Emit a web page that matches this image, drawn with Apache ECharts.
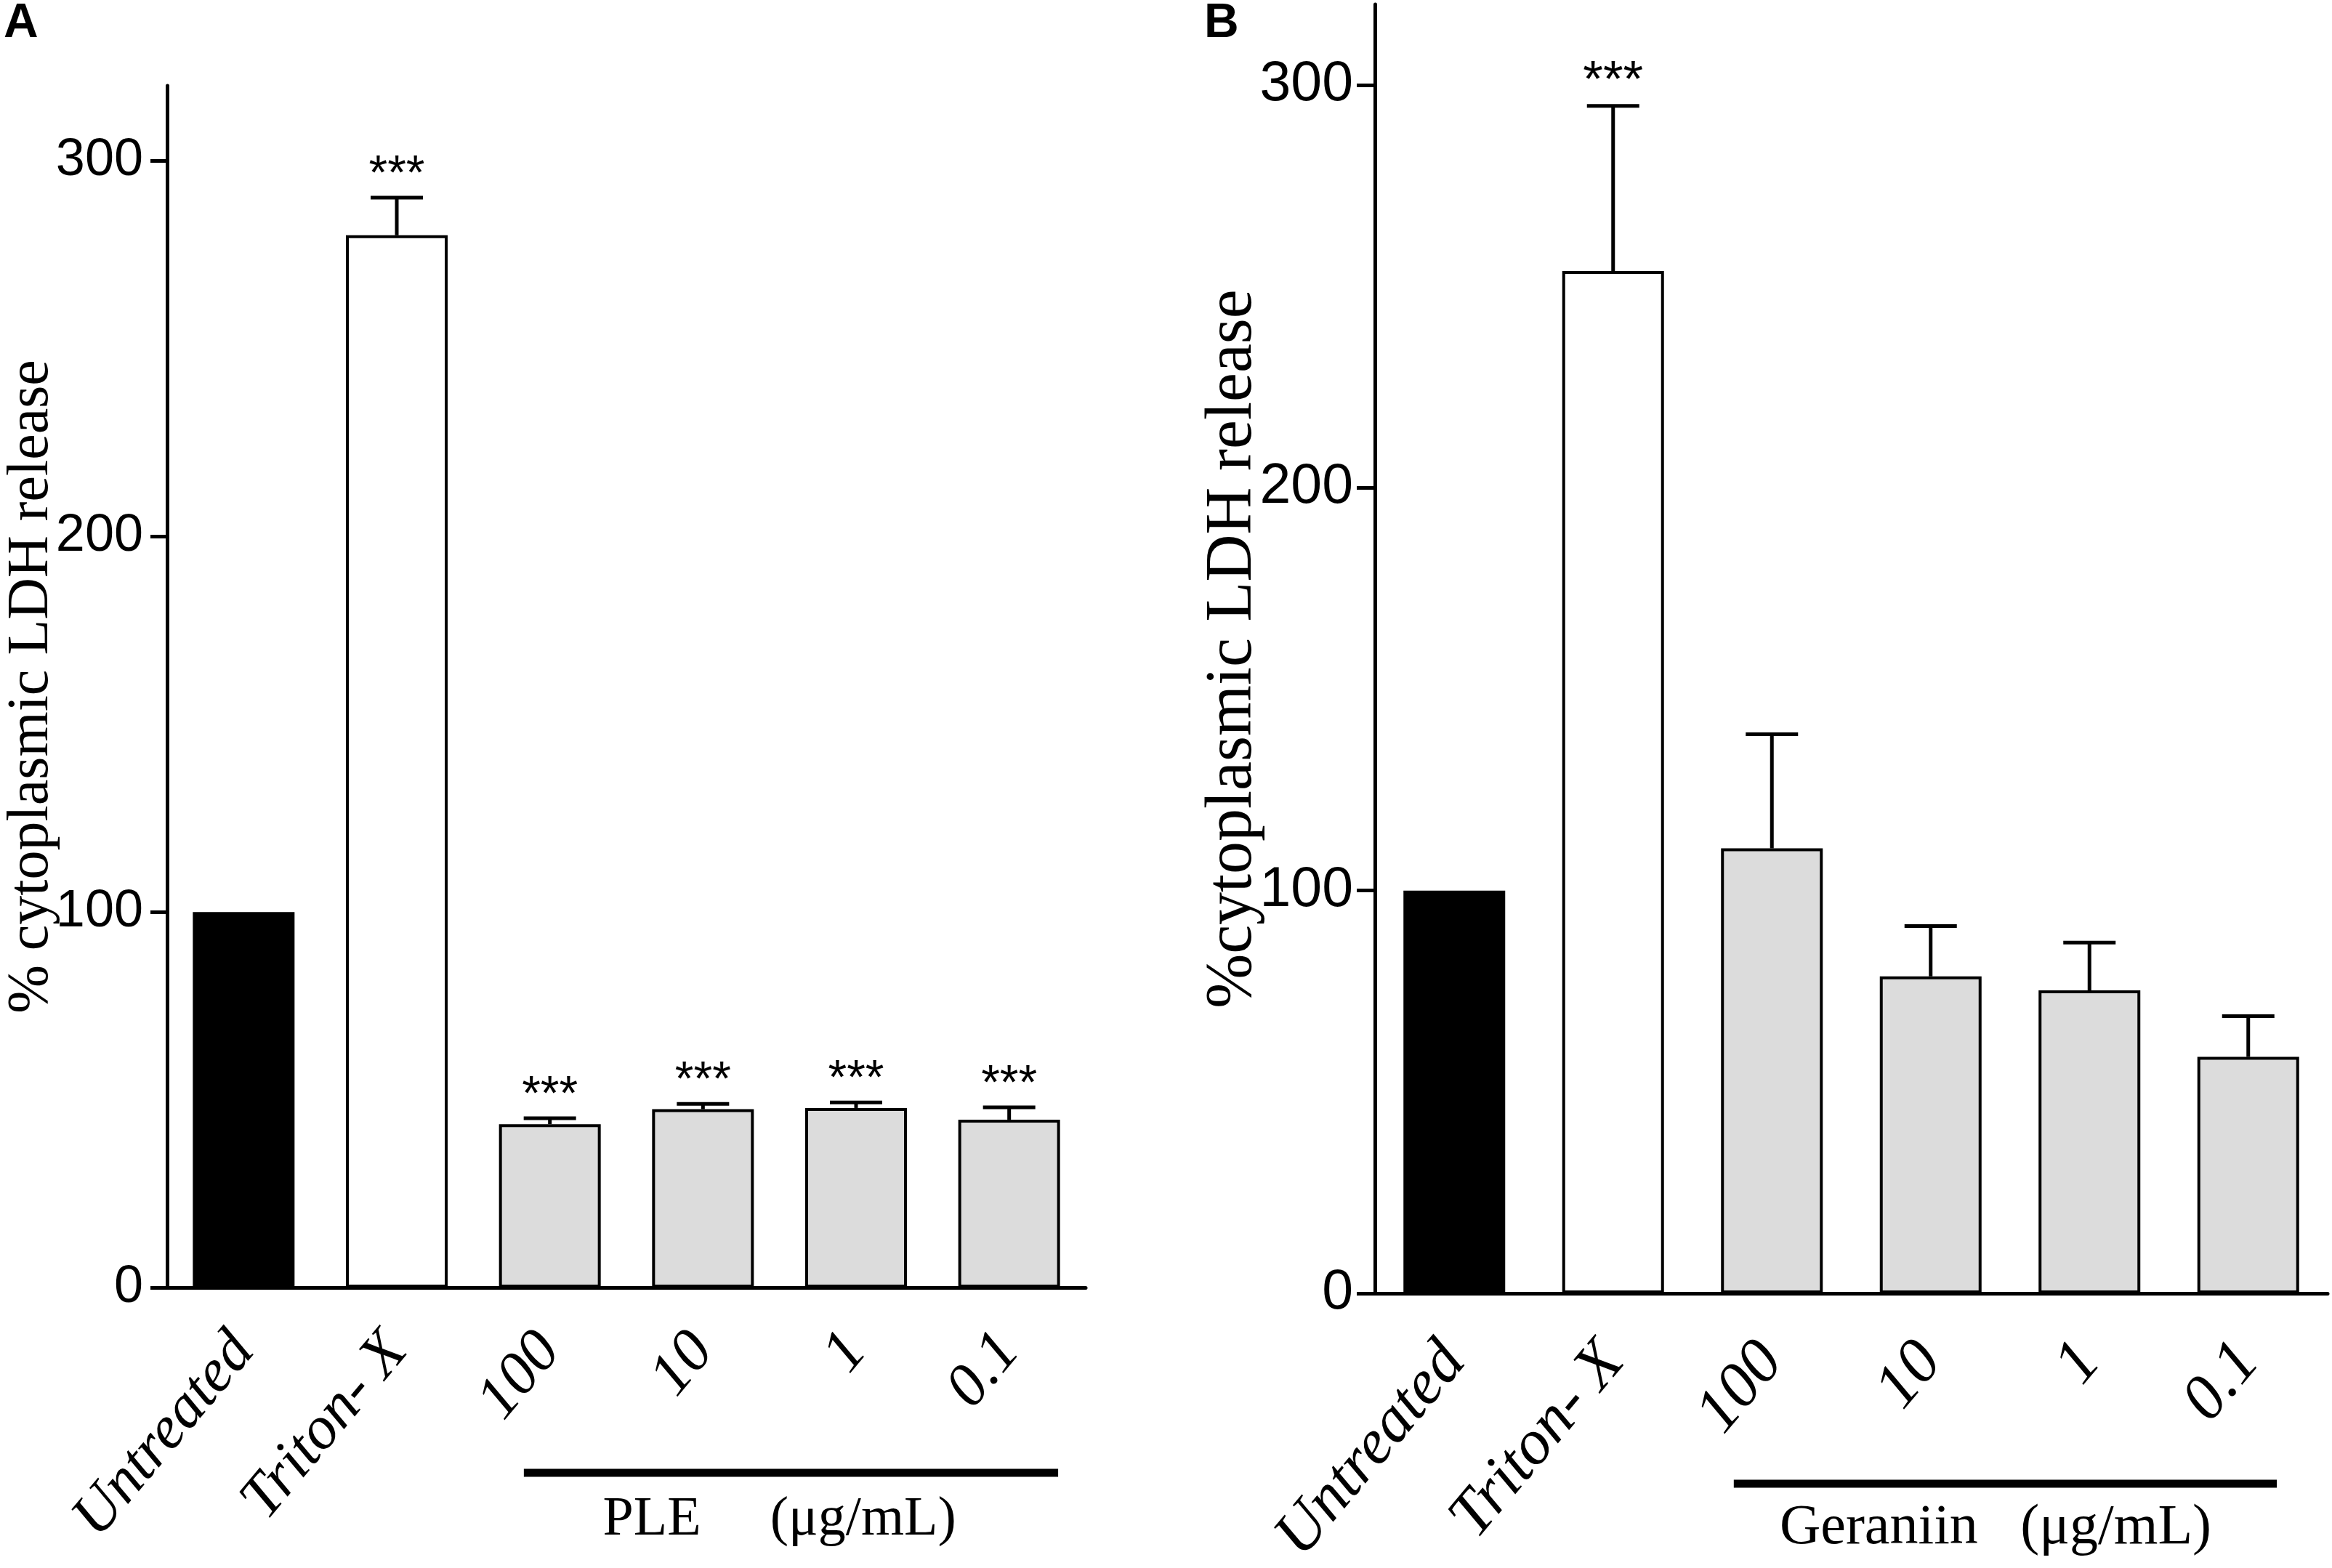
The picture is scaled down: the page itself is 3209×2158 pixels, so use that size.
<!DOCTYPE html>
<html>
<head>
<meta charset="utf-8">
<script src="https://cdn.jsdelivr.net/npm/echarts@6/dist/echarts.min.js"></script>
<style>
  html, body { margin: 0; padding: 0; background: #fff; }
  #main { width: 3209px; height: 2158px; }
</style>
</head>
<body>
<div id="main"></div>
<script>
// categories shared by both panels
var categories = ['Untreated', 'Triton- X', '100', '10', '1', '0.1'];
var yTicks = [0, 100, 200, 300];

// panel A: PLE
var pleMean = [100, 280.2, 43.5, 47.5, 47.8, 44.7];
var pleSd = [0, 10.0, 1.6, 1.4, 1.5, 3.3];
var pleSig = ['', '***', '***', '***', '***', '***'];
var pleGroupLabel = 'PLE     (μg/mL)';

// panel B: Geraniin
var gerMean = [100, 253.8, 110.5, 78.7, 75.2, 58.7];
var gerSd = [0, 41.0, 28.3, 12.5, 11.9, 10.1];
var gerSig = ['', '***', '', '', '', ''];
var gerGroupLabel = 'Geraniin   (μg/mL)';

// the concentration bracket spans these categories
var groupFrom = 2, groupTo = 5;

function fillFor(i) {
    if (i === 0) return '#000';
    if (i === 1) return '#fff';
    return '#dcdcdc';
}

function makePanel(k, mean, sd, sig, groupLabel, yName, s) {
    var barData = mean.map(function (v, i) {
        return { value: v, itemStyle: { color: fillFor(i) } };
    });
    var errData = mean.map(function (v, i) { return [i, v, v + sd[i]]; });

    var grid = { left: s.left, top: s.top, width: s.width, height: s.height,
        containLabel: false, outerBoundsMode: 'none' };
    var xAxis = {
        gridIndex: k, type: 'category', data: categories, boundaryGap: true,
        axisLine: { lineStyle: { color: '#000', width: 5 } },
        axisTick: { alignWithLabel: true, length: 27, lineStyle: { color: '#000', width: 5 } },
        axisLabel: {
            interval: 0, rotate: 50, margin: s.xMargin, color: '#000',
            fontFamily: 'Liberation Serif', fontStyle: 'italic', fontSize: s.xFont
        },
        splitLine: { show: false }
    };
    var yAxis = {
        gridIndex: k, type: 'value', min: 0, max: 320,
        axisLine: { show: true, lineStyle: { color: '#000', width: 5 } },
        axisTick: { show: true, length: s.yTick, customValues: yTicks, lineStyle: { color: '#000', width: 5 } },
        axisLabel: {
            customValues: yTicks, margin: s.yMargin, color: '#000',
            fontFamily: 'Liberation Sans', fontSize: s.yFont
        },
        splitLine: { show: false },
        name: yName, nameLocation: 'middle', nameRotate: 90, nameGap: s.nameGap,
        nameMoveOverlap: false,
        nameTextStyle: { fontFamily: 'Liberation Serif', fontSize: s.nameFont, color: '#000' }
    };
    var bars = {
        type: 'bar', xAxisIndex: k, yAxisIndex: k, data: barData, barWidth: 140,
        itemStyle: { borderColor: '#000', borderWidth: 4 },
        z: 2
    };
    var errors = {
        type: 'custom', xAxisIndex: k, yAxisIndex: k, data: errData, clip: false, z: 3,
        renderItem: function (params, api) {
            var x = api.value(0), m = api.value(1), t = api.value(2);
            var base = api.coord([x, m]);
            var top = api.coord([x, t]);
            var children = [];
            if (t > m) {
                children.push({ type: 'line', shape: { x1: base[0], y1: base[1], x2: top[0], y2: top[1] },
                    style: { stroke: '#000', lineWidth: 5 } });
                children.push({ type: 'line', shape: { x1: top[0] - 36, y1: top[1], x2: top[0] + 36, y2: top[1] },
                    style: { stroke: '#000', lineWidth: 5 } });
            }
            var star = sig[params.dataIndex];
            if (star) {
                children.push({ type: 'text', style: {
                    text: star, x: top[0], y: top[1] - s.starGap, fill: '#000',
                    fontFamily: 'Liberation Sans', fontSize: s.starFont,
                    align: 'center', verticalAlign: 'middle' } });
            }
            return { type: 'group', children: children };
        }
    };
    var bracket = {
        type: 'custom', xAxisIndex: k, yAxisIndex: k, data: [[groupFrom, groupTo]], clip: false, z: 3,
        renderItem: function (params, api) {
            var band = api.size([1, 0])[0];
            var p1 = api.coord([api.value(0), 0]);
            var p2 = api.coord([api.value(1), 0]);
            var x1 = p1[0] - s.brL * band, x2 = p2[0] + s.brR * band;
            return { type: 'group', children: [
                { type: 'line', shape: { x1: x1, y1: p1[1] + s.brY, x2: x2, y2: p1[1] + s.brY },
                  style: { stroke: '#000', lineWidth: 11 } },
                { type: 'text', style: {
                    text: groupLabel, x: (p1[0] + p2[0]) / 2 + s.lblDx, y: p1[1] + s.lblY, fill: '#000',
                    fontFamily: 'Liberation Serif', fontSize: s.lblFont,
                    align: 'center', verticalAlign: 'middle' } }
            ] };
        }
    };
    return { grid: grid, xAxis: xAxis, yAxis: yAxis, series: [bars, errors, bracket] };
}

var panelA = makePanel(0, pleMean, pleSd, pleSig, pleGroupLabel, '% cytoplasmic LDH release', {
    left: 230, top: 118, width: 1264, height: 1654,
    xMargin: 74, xFont: 84, yTick: 23, yMargin: 33, yFont: 72, nameGap: 146, nameFont: 80,
    starGap: 30, starFont: 66, brL: 0.17, brR: 0.32, brY: 255, lblY: 320, lblFont: 76, lblDx: 0
});
var panelB = makePanel(1, gerMean, gerSd, gerSig, gerGroupLabel, '%cytoplasmic LDH release', {
    left: 1892, top: 6, width: 1311, height: 1774,
    xMargin: 80, xFont: 88, yTick: 25, yMargin: 30, yFont: 77, nameGap: 150, nameFont: 90,
    starGap: 32, starFont: 71, brL: 0.24, brR: 0.18, brY: 262, lblY: 324, lblFont: 78, lblDx: -20
});

var chart = echarts.init(document.getElementById('main'));
chart.setOption({
    animation: false,
    backgroundColor: '#fff',
    grid: [panelA.grid, panelB.grid],
    xAxis: [panelA.xAxis, panelB.xAxis],
    yAxis: [panelA.yAxis, panelB.yAxis],
    series: panelA.series.concat(panelB.series),
    graphic: [
        { type: 'text', left: 5, top: 0, style: { text: 'A', fill: '#000', fontFamily: 'Liberation Sans', fontWeight: 'bold', fontSize: 66 } },
        { type: 'text', left: 1657, top: 0, style: { text: 'B', fill: '#000', fontFamily: 'Liberation Sans', fontWeight: 'bold', fontSize: 66 } }
    ]
});
</script>
</body>
</html>
